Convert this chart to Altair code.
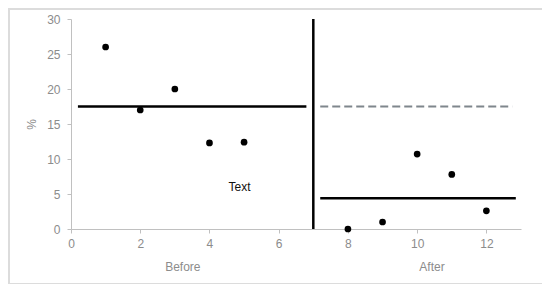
import altair as alt
import pandas as pd

# Data
before_x = [1, 2, 3, 4, 5]
before_y = [26.0, 17.0, 20.0, 12.3, 12.4]
after_x = [8, 9, 10, 11, 12]
after_y = [0.0, 1.0, 10.7, 7.8, 2.6]

# Reference segments (mean lines)
seg_x1 = [0.2, 7.2]
seg_x2 = [6.8, 12.85]
seg_y = [17.5, 4.4]
seg_kind = ["before", "after"]

dash_x1 = [7.2]
dash_x2 = [12.75]
dash_y = [17.5]

divider_x = [7]
divider_y1 = [0]
divider_y2 = [30]

note_x = [4.87]
note_y = [6.0]
note_text = ["Text"]

group_x = [3.23, 10.43]
group_label = ["Before", "After"]

x_ticks = [0, 2, 4, 6, 8, 10, 12]
y_ticks = [0, 5, 10, 15, 20, 25, 30]

FONT = "Liberation Sans"
GRAY = "#8c8c8c"

pts = pd.DataFrame({"x": before_x + after_x, "y": before_y + after_y})
segs = pd.DataFrame({"x1": seg_x1, "x2": seg_x2, "y": seg_y, "kind": seg_kind})
dash = pd.DataFrame({"x1": dash_x1, "x2": dash_x2, "y": dash_y})
div = pd.DataFrame({"x": divider_x, "y1": divider_y1, "y2": divider_y2})
note = pd.DataFrame({"x": note_x, "y": note_y, "t": note_text})
groups = pd.DataFrame({"x": group_x, "t": group_label})

xscale = alt.Scale(domain=[0, 13], nice=False, zero=False)
yscale = alt.Scale(domain=[0, 30], nice=False)

xaxis = alt.Axis(values=x_ticks, title=None, grid=False, labelOverlap=False,
                 labelFlush=False, tickSize=4, labelPadding=5)
yaxis = alt.Axis(values=y_ticks, title="%", grid=False, labelOverlap=False,
                 labelFlush=False, tickSize=4, labelPadding=7, titlePadding=8)


def X(field):
    return alt.X(field, type="quantitative", scale=xscale, axis=xaxis)


def Y(field):
    return alt.Y(field, type="quantitative", scale=yscale, axis=yaxis)


frame = alt.Chart(pd.DataFrame({"a": [0]})).mark_rect(
    fill=None, stroke="#dcdcdc", strokeWidth=2
).encode(x=alt.value(-62), x2=alt.value(474), y=alt.value(-10), y2=alt.value(265))

points = alt.Chart(pts).mark_circle(size=45, color="black", opacity=1).encode(
    x=X("x"), y=Y("y"),
)

seg_rules = alt.Chart(segs).mark_rule(color="black", strokeWidth=2.5).encode(
    x=X("x1"), x2="x2:Q", y=Y("y")
)

dash_rule = alt.Chart(dash).mark_rule(color="#7f868c", strokeWidth=2, strokeDash=[8, 4]).encode(
    x=X("x1"), x2="x2:Q", y=Y("y")
)

div_rule = alt.Chart(div).mark_rule(color="black", strokeWidth=2.5).encode(
    x=X("x"), y=Y("y1"), y2="y2:Q"
)

note_txt = alt.Chart(note).mark_text(font=FONT, fontSize=12, color="#111").encode(
    x=X("x"), y=Y("y"), text="t:N"
)

group_txt = alt.Chart(groups).mark_text(font=FONT, fontSize=12, color=GRAY).encode(
    x=X("x"), y=alt.value(248), text="t:N"
)

chart = alt.layer(
    frame, seg_rules, dash_rule, div_rule, points, note_txt, group_txt
).properties(
    width=450, height=210,
    autosize=alt.AutoSizeParams(type="none"),
    padding={"left": 63, "top": 11, "right": 21, "bottom": 55},
).configure_view(stroke=None).configure_axis(
    labelFont=FONT, titleFont=FONT, labelColor=GRAY, titleColor=GRAY,
    labelFontSize=12, titleFontSize=12, titleFontWeight="normal",
    domainColor="#c0c0c0", tickColor="#c0c0c0", domainWidth=1,
)

chart.save("out.html", embed_options={"renderer": "svg", "actions": False})
